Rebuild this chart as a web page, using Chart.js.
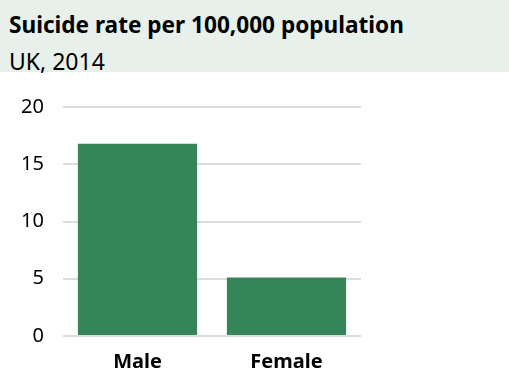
<!DOCTYPE html>
<html>
<head>
<meta charset="utf-8">
<script src="https://cdn.jsdelivr.net/npm/chart.js@4"></script>
<style>
  html, body { margin: 0; padding: 0; background: #fff; }
  body { width: 509px; height: 374px; overflow: hidden; font-family: "Noto Sans", sans-serif; position: relative; }
  .header { background: #e8f0eb; height: 72px; }
  .title { font-weight: bold; font-size: 22.6px; color: #000; position: absolute; top: 9px; left: 9px; white-space: nowrap; }
  .subtitle { font-size: 23px; color: #000; position: absolute; top: 45px; left: 9px; white-space: nowrap; }
  .wrap { position: relative; width: 509px; height: 302px; }
</style>
</head>
<body>
<div class="header">
  <div class="title">Suicide rate per 100,000 population</div>
  <div class="subtitle">UK, 2014</div>
</div>
<div class="wrap"><canvas id="rateChart"></canvas></div>
<script>
// Categories and values
const categories = ['Male', 'Female'];
const rates = [16.8, 5.1];
const yTicks = [0, 5, 10, 15, 20];

const barColor = '#35845a';
const gridColor = '#dcdcdc';

const ctx = document.getElementById('rateChart').getContext('2d');
const rateChart = new Chart(ctx, {
    type: 'bar',
    data: {
        labels: categories,
        datasets: [{
            data: rates,
            backgroundColor: barColor,
            borderWidth: 0,
            categoryPercentage: 1.0,
            barPercentage: 0.8
        }]
    },
    options: {
        responsive: true,
        maintainAspectRatio: false,
        animation: false,
        layout: { padding: { top: 35, right: 148, left: 0, bottom: 0 } },
        plugins: {
            legend: { display: false },
            tooltip: { enabled: false }
        },
        scales: {
            x: {
                grid: { display: false, drawTicks: false },
                border: { display: false },
                ticks: {
                    color: '#000',
                    padding: 14,
                    font: { family: 'Noto Sans', size: 20, weight: 'bold' }
                },
                afterFit: function(scale) { scale.height = 38; }
            },
            y: {
                min: 0,
                max: 20,
                afterBuildTicks: function(scale) {
                    scale.ticks = yTicks.map(v => ({ value: v }));
                },
                grid: { color: gridColor, lineWidth: 2, drawTicks: false },
                border: { display: false },
                ticks: {
                    color: '#000',
                    padding: 19,
                    font: { family: 'Noto Sans', size: 20 }
                },
                afterFit: function(scale) { scale.width = 63; }
            }
        }
    }
});
</script>
</body>
</html>
